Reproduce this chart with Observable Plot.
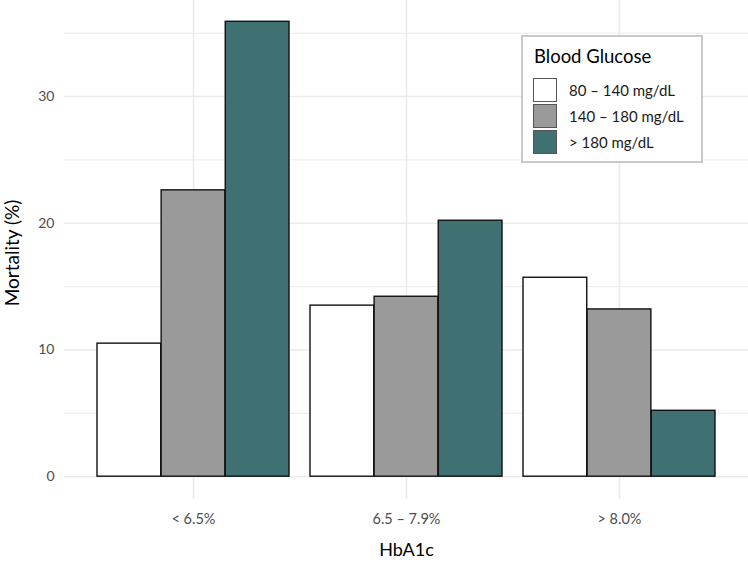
<!DOCTYPE html>
<html>
<head>
<meta charset="utf-8">
<script src="https://cdn.jsdelivr.net/npm/d3@7"></script>
<script src="https://cdn.jsdelivr.net/npm/@observablehq/plot@0.6"></script>
<style>
  html, body { margin: 0; padding: 0; background: #fff; }
  #wrap { position: relative; width: 748px; height: 567px; font-family: Lato, "Open Sans", sans-serif; }
  #legend { position: absolute; left: 521px; top: 35px; width: 178px; height: 124px;
    border: 2px solid #c9c9c9; background: #fff; box-sizing: content-box; }
  #legend .title { position: absolute; left: 11px; top: 10px; font-size: 18.5px; color: #000; line-height: 1; }
  #legend .row { position: absolute; left: 10px; height: 24px; display: flex; align-items: center; }
  #legend .sw { width: 22px; height: 22px; border: 1px solid #555; box-sizing: content-box; }
  #legend .lab { margin-left: 12px; font-size: 15px; color: #1a1a1a; }
</style>
</head>
<body>
<div id="wrap"></div>
<script>
// ---- data ----
const groups = ["< 6.5%", "6.5 – 7.9%", "> 8.0%"];
const series = ["80 – 140 mg/dL", "140 – 180 mg/dL", "> 180 mg/dL"];
const colors = ["#ffffff", "#9a9a9a", "#3f7173"];
const valuesLow  = [10.5, 13.5, 15.7];   // 80 – 140 mg/dL
const valuesMid  = [22.6, 14.2, 13.2];   // 140 – 180 mg/dL
const valuesHigh = [35.9, 20.2, 5.2];    // > 180 mg/dL
const yMajorTicks = [0, 10, 20, 30];
const yMinorTicks = [5, 15, 25, 35];
const yTitle = "Mortality (%)";
const xTitle = "HbA1c";
const legendTitle = "Blood Glucose";

const seriesValues = [valuesLow, valuesMid, valuesHigh];
const data = [];
series.forEach((s, si) => groups.forEach((g, gi) => data.push({group: g, series: s, si, value: seriesValues[si][gi]})));

// ---- layout ----
const W = 748, H = 567;
const mL = 64, mR = 0, mT = 0, mB = 68;
const padIn = 0.1, padOut = 0.15;
const step = (W - mL - mR) / (groups.length - padIn + 2 * padOut);
const bw = step * (1 - padIn);
const sub = bw / series.length;

const gridColor = "#ebebeb";

const barMarks = series.map((s, si) =>
  Plot.barY(data.filter(d => d.si === si), {
    x: "group", y: "value",
    fill: colors[si], stroke: "#111", strokeWidth: 1.4,
    insetLeft: si * sub, insetRight: (series.length - 1 - si) * sub
  })
);

const chart = Plot.plot({
  width: W, height: H,
  marginLeft: mL, marginRight: mR, marginTop: mT, marginBottom: mB,
  style: { fontFamily: "Lato, 'Open Sans', sans-serif", fontSize: "14px", background: "transparent" },
  x: { domain: groups, paddingInner: padIn, paddingOuter: padOut, label: null },
  y: { domain: [-1.8, 37.58], label: null },
  marks: [
    Plot.ruleY(yMinorTicks, { stroke: gridColor, strokeWidth: 1 }),
    Plot.ruleY(yMajorTicks, { stroke: gridColor, strokeWidth: 1.6 }),
    Plot.gridX({ stroke: gridColor, strokeOpacity: 1, strokeWidth: 1.6 }),
    ...barMarks,
    Plot.axisY(yMajorTicks, { tickSize: 0, tickPadding: 10, fontSize: 14, fill: "#4d4d4d", label: null }),
    Plot.axisX({ tickSize: 0, tickPadding: 14, fontSize: 14.5, fill: "#4d4d4d", label: null }),
    Plot.text([xTitle], { frameAnchor: "bottom", dy: 56, fontSize: 18, fill: "#000", textAnchor: "middle" }),
    Plot.text([yTitle], { frameAnchor: "left", dx: -52, dy: 3, rotate: -90, fontSize: 19, fill: "#000", textAnchor: "middle" })
  ]
});

const wrap = document.getElementById("wrap");
wrap.appendChild(chart);
chart.style.position = "absolute";
chart.style.left = "0px";
chart.style.top = "0px";

// legend
const lg = document.createElement("div");
lg.id = "legend";
const t = document.createElement("div");
t.className = "title";
t.textContent = legendTitle;
lg.appendChild(t);
series.forEach((s, i) => {
  const row = document.createElement("div");
  row.className = "row";
  row.style.top = (41 + i * 26) + "px";
  const sw = document.createElement("div");
  sw.className = "sw";
  sw.style.background = colors[i];
  const lab = document.createElement("span");
  lab.className = "lab";
  lab.textContent = s;
  row.appendChild(sw); row.appendChild(lab);
  lg.appendChild(row);
});
wrap.appendChild(lg);
</script>
</body>
</html>
